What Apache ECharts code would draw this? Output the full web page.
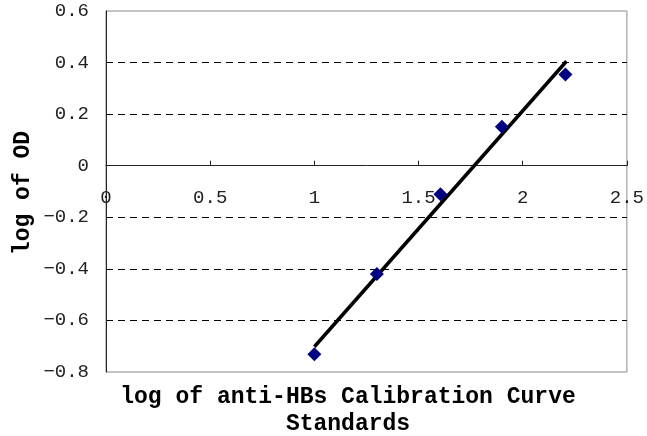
<!DOCTYPE html>
<html>
<head>
<meta charset="utf-8">
<script src="https://cdn.jsdelivr.net/npm/echarts@6/dist/echarts.min.js"></script>
<style>
  html, body { margin: 0; padding: 0; background: #fff; }
  #chart { width: 647px; height: 436px; }
</style>
</head>
<body>
<div id="chart"></div>
<script>
// standards (log concentration) vs log of OD
const logStd = [1.0, 1.3, 1.605, 1.9, 2.205];
const logOD = [-0.731, -0.42, -0.111, 0.151, 0.354];
// trend line endpoints
const trendX = [1.0, 2.21];
const trendY = [-0.702, 0.405];

const xTitle1 = "log of anti-HBs Calibration Curve";
const xTitle2 = "Standards";
const yTitle = "log of OD";

const mono = "'Liberation Mono', 'DejaVu Sans Mono', monospace";

const chart = echarts.init(document.getElementById("chart"), null, { renderer: "canvas" });

chart.setOption({
  animation: false,
  grid: {
    left: 106, top: 11, right: 17, bottom: 64,
    show: true, borderColor: "#8a8a8a", borderWidth: 1, backgroundColor: "transparent",
  },
  xAxis: {
    type: "value", min: 0, max: 2.5, interval: 0.5,
    axisLine: { onZero: true, lineStyle: { color: "#222", width: 1 } },
    axisTick: { show: true, inside: true, length: 5, lineStyle: { color: "#222" } },
    // labels sit just under the zero line, not at the grid bottom
    axisLabel: {
      color: "#222", fontFamily: mono, fontSize: 19, margin: -184,
      formatter: (v) => String(v),
    },
    splitLine: { show: false },
  },
  yAxis: {
    type: "value", min: -0.8, max: 0.6, interval: 0.2,
    axisLine: { show: true, onZero: false, lineStyle: { color: "#222", width: 1 } },
    axisTick: { show: false },
    axisLabel: {
      color: "#222", fontFamily: mono, fontSize: 19, margin: 17,
      formatter: (v) => String(Math.round(v * 10) / 10).replace("-", "\u2212"),
    },
    splitLine: {
      show: true, showMinLine: false, showMaxLine: false,
      lineStyle: { color: "#000", type: [7, 5], width: 1 },
    },
  },
  series: [
    {
      type: "line",
      data: trendX.map((x, i) => [x, trendY[i]]),
      showSymbol: false,
      lineStyle: { color: "#000", width: 3.5 },
      z: 2,
    },
    {
      type: "scatter",
      data: logStd.map((x, i) => [x, logOD[i]]),
      symbol: "diamond",
      symbolSize: 14,
      itemStyle: { color: "#000080", opacity: 1 },
      z: 3,
    },
  ],
  graphic: [
    {
      type: "text",
      style: {
        text: xTitle1, x: 348, y: 397, align: "center", verticalAlign: "middle",
        font: "bold 23px " + mono, fill: "#000",
      },
    },
    {
      type: "text",
      style: {
        text: xTitle2, x: 348, y: 424, align: "center", verticalAlign: "middle",
        font: "bold 23px " + mono, fill: "#000",
      },
    },
    {
      type: "text",
      x: 23, y: 193, rotation: Math.PI / 2,
      style: {
        text: yTitle, x: 0, y: 0, align: "center", verticalAlign: "middle",
        font: "bold 23px " + mono, fill: "#000",
      },
    },
  ],
});
</script>
</body>
</html>
